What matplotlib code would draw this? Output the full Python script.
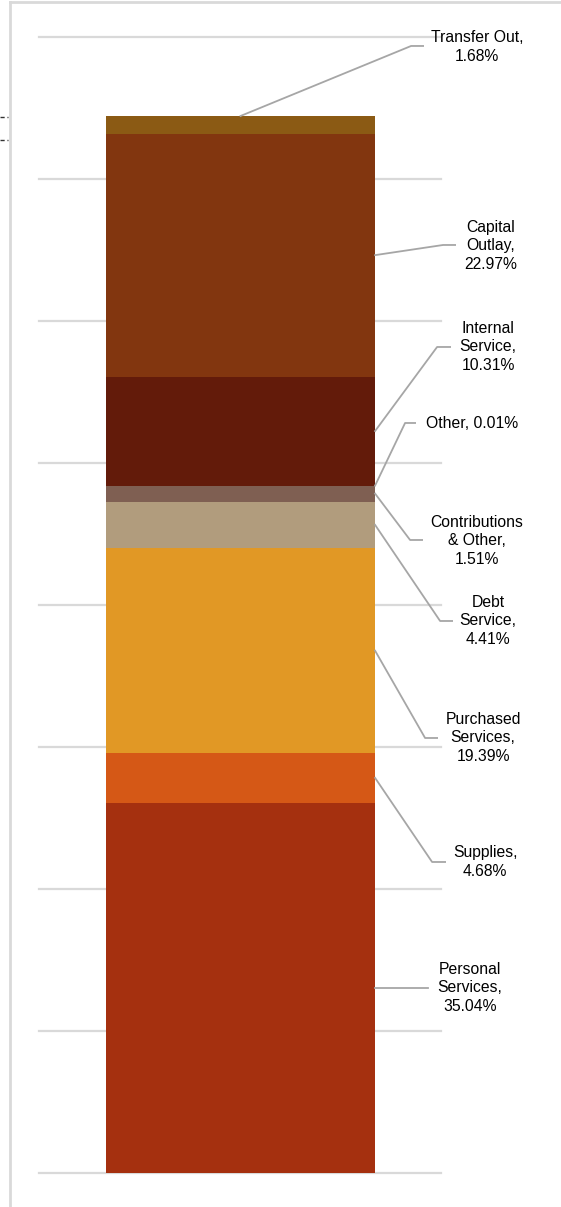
import matplotlib
matplotlib.use("Agg")
import numpy as np
from matplotlib import pyplot as plt
from matplotlib.lines import Line2D

plt.rcParams['font.family'] = ['Liberation Sans', 'DejaVu Sans']

# bottom to top
categories = ["Personal Services", "Supplies", "Purchased Services", "Debt Service",
              "Contributions & Other", "Other", "Internal Service", "Capital Outlay",
              "Transfer Out"]
shares = [35.04, 4.68, 19.39, 4.41, 1.51, 0.01, 10.31, 22.97, 1.68]
labels = ["Personal\nServices,\n35.04%", "Supplies,\n4.68%", "Purchased\nServices,\n19.39%",
          "Debt\nService,\n4.41%", "Contributions\n& Other,\n1.51%", "Other, 0.01%",
          "Internal\nService,\n10.31%", "Capital\nOutlay,\n22.97%", "Transfer Out,\n1.68%"]
colors = ["#a5300f", "#d55816", "#e19825", "#b19c7d", "#7f5f52", "#8a7a70",
          "#631b0a", "#82360f", "#8b5a14"]
grid_step = 13.434

W, H = 561, 1207
fig = plt.figure(figsize=(W / 100, H / 100), dpi=100)
ax = fig.add_axes([39 / W, (H - 1173) / H, (441 - 39) / W, (1173 - 37) / H])

bottoms = np.concatenate([[0], np.cumsum(shares)[:-1]])
ax.bar([0] * len(shares), shares, width=1.0, bottom=bottoms, color=colors, zorder=2)

ax.set_xlim(-0.749, 0.745)
ax.set_ylim(0, grid_step * 8)
for k in range(9):
    ax.axhline(k * grid_step, color="#d9d9d9", lw=1.6, zorder=1, clip_on=False)
for s in ax.spines.values():
    s.set_visible(False)
ax.set_xticks([])
ax.set_yticks([])

def px(x, y):
    # layout position in pixels -> data coords
    return (x - 240.5) / 269.0, (1173 - y) / 1057.0 * 100

# label layout: (text centre x, text centre y, elbow x, elbow y, tail end x)
layout = [
    (470, 988, None, 988, 428),
    (485, 862, 432, 862, 445),
    (483, 738, 425, 738, 437),
    (488, 621, 440, 621, 452),
    (477, 541, 410, 540, 422),
    (472, 424, 405, 423, 415),
    (488, 347, 437, 347, 450),
    (491, 246, 443, 245, 455),
    (477, 47, 411, 46, 423),
]

mids = bottoms + np.array(shares) / 2
for i, (lab, (tx, ty, ex, ey, endx)) in enumerate(zip(labels, layout)):
    if i == len(labels) - 1:
        x0, y0 = 0.0, bottoms[i] + shares[i]
    elif categories[i] == "Other":
        x0, y0 = 0.5, bottoms[i]
    else:
        x0, y0 = 0.5, mids[i]
    xe, ye = px(endx, ey)
    if ex is None:
        xs, ys = [x0, xe], [y0, y0]
    else:
        xm, ym = px(ex, ey)
        xs, ys = [x0, xm, xe], [y0, ym, ye]
    ax.plot(xs, ys, color="#a6a6a6", lw=1.3, clip_on=False, zorder=3)
    lx, ly = px(tx, ty)
    ax.text(lx, ly, lab, ha="center", va="center", fontsize=11.3, linespacing=1.3,
            color="#000000", clip_on=False)

# outer chart frame
fig.add_artist(Line2D([10 / W, 10 / W], [0, 1 - 2 / H], color="#d9d9d9", lw=2))
fig.add_artist(Line2D([10 / W, 1], [1 - 2 / H, 1 - 2 / H], color="#d9d9d9", lw=2))
for yy in (116.5, 140):
    fig.add_artist(Line2D([0, 8 / W], [1 - yy / H, 1 - yy / H], color="#333333",
                          lw=1, ls=(0, (3, 2))))

fig.savefig("out.png", dpi=100)
